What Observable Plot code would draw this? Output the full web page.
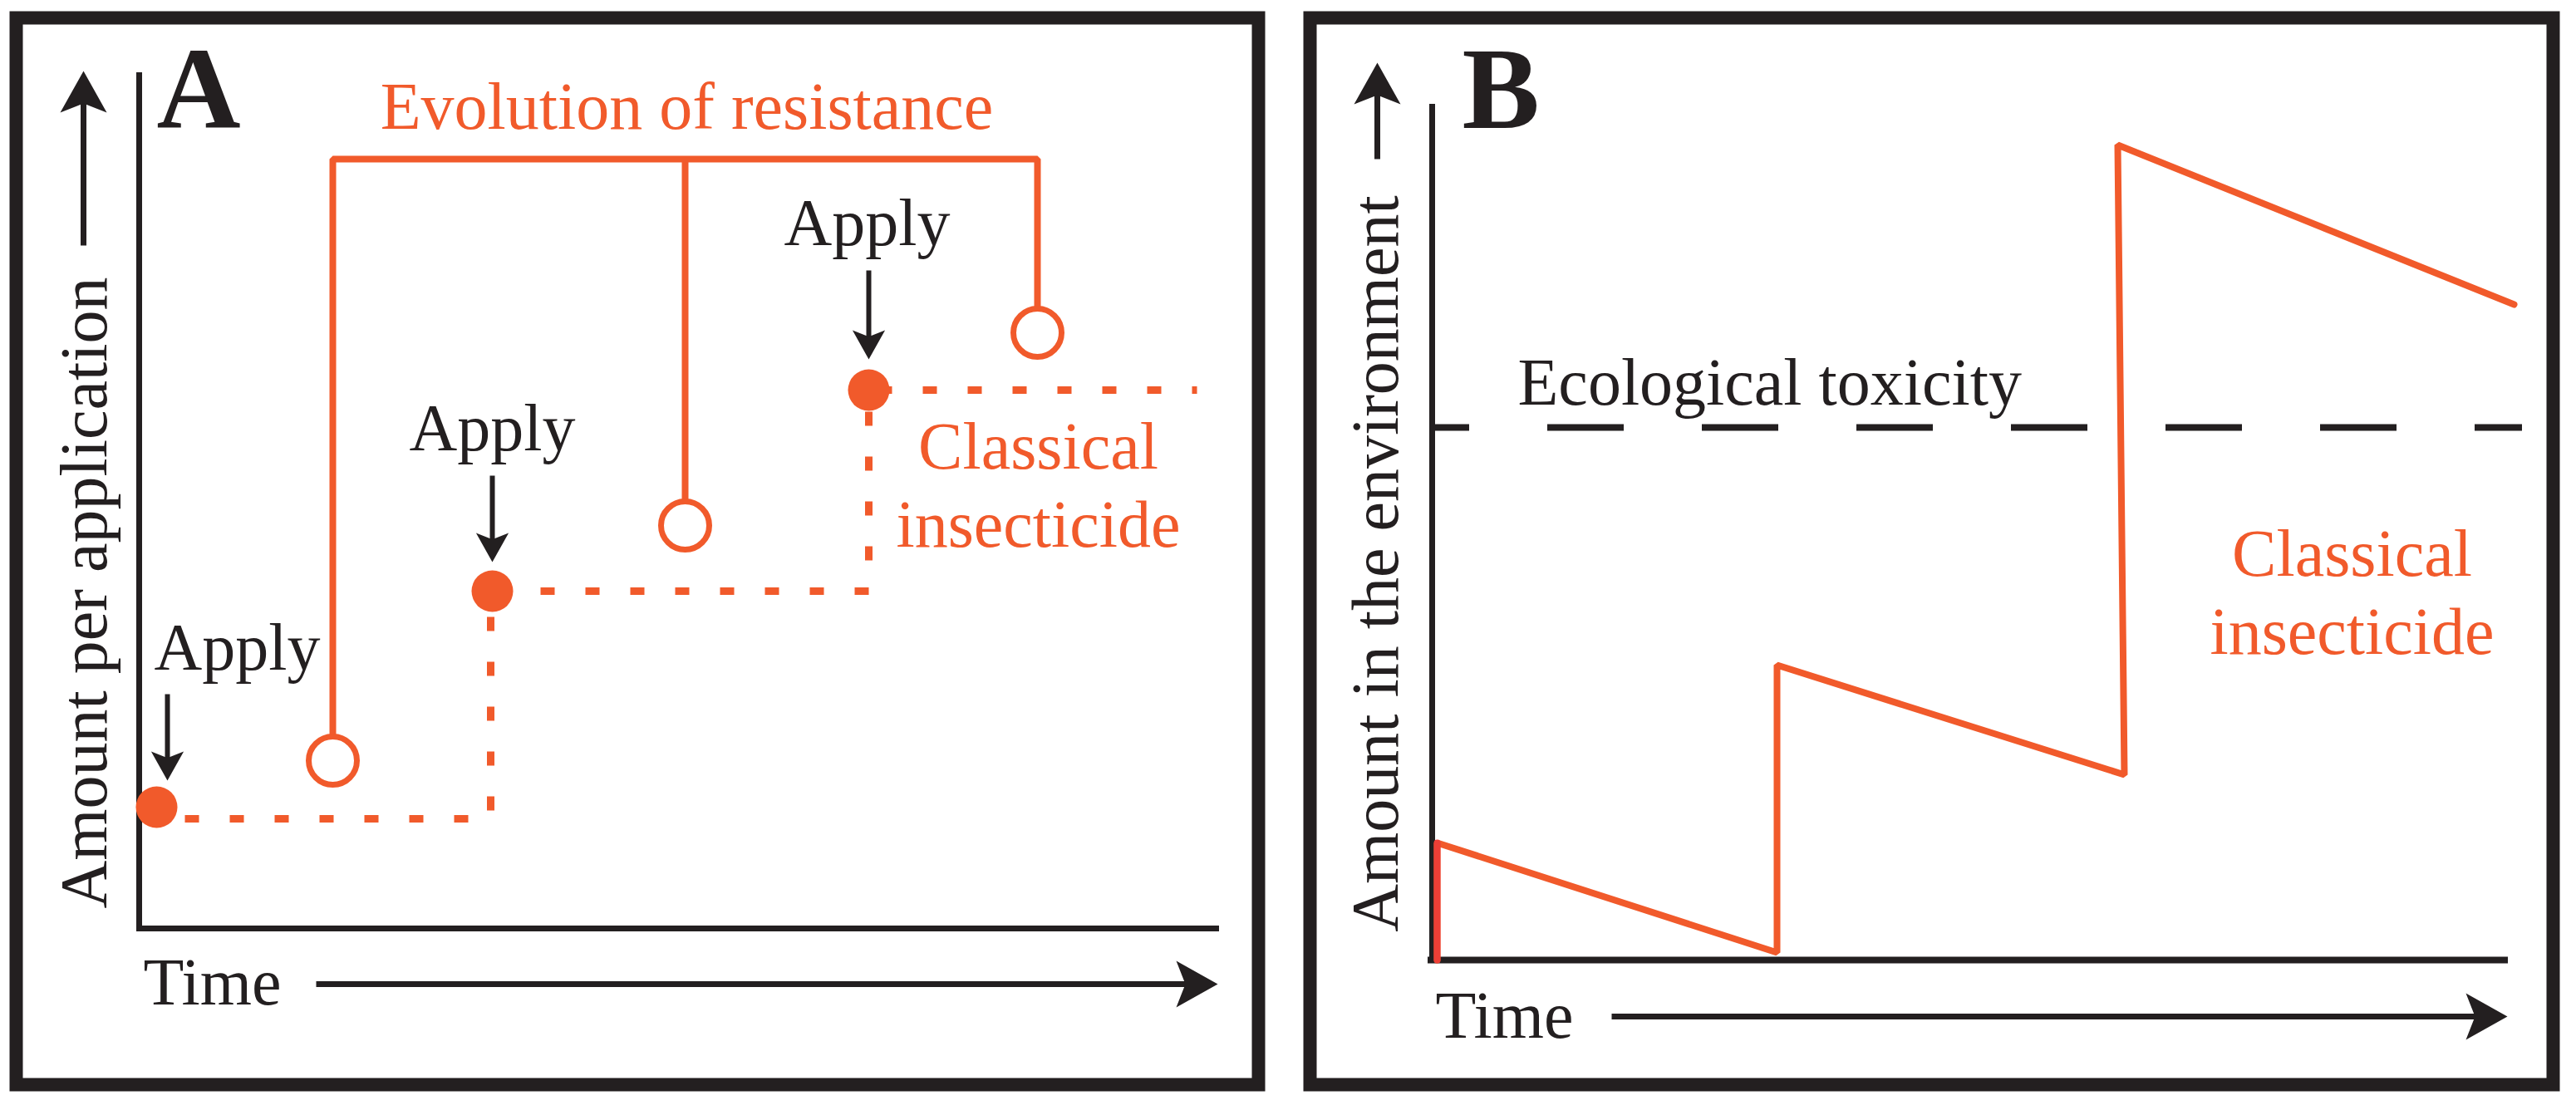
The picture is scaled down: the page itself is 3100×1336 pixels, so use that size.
<!DOCTYPE html>
<html>
<head>
<meta charset="utf-8">
<script src="https://cdn.jsdelivr.net/npm/d3@7"></script>
<script src="https://cdn.jsdelivr.net/npm/@observablehq/plot@0.6"></script>
<style>
  html, body { margin: 0; padding: 0; background: #fff; }
  #fig { display: flex; width: 3100px; height: 1336px; }
  #fig svg { display: block; }
</style>
</head>
<body>
<div id="fig"></div>
<script>
// ---------- Panel A data (x: time, y: amount per application) ----------
const applyT        = [0.21, 4.25, 8.78];     // application times
const applyAmt      = [1.46, 4.06, 6.48];     // amount applied each time
const stepT         = [0.21, 4.23, 4.23, 8.78, 8.78, 12.73];
const stepAmt       = [1.32, 1.32, 4.06, 4.06, 6.48, 6.48];
const resistT       = [2.33, 6.57, 10.81];    // resistance evolves
const resistAmt     = [2.02, 4.85, 7.17];
const bracketAmt    = 9.26;
const applyLabelT   = [1.18, 4.25, 8.76];
const applyLabelAmt = [3.12, 5.76, 8.23];
const applyArrowT   = [0.34, 4.25, 8.78];
const applyArrowFrom= [2.82, 5.45, 7.92];
const applyArrowTo  = [1.78, 4.41, 6.85];

// ---------- Panel B data (x: time, y: amount in the environment) ----------
const envT   = [0.06, 0.06, 4.15, 4.15, 8.33, 8.25, 13.02];
const envAmt = [0.00, 1.41, 0.09, 3.55, 2.23, 9.81, 7.89];
const toxicityLevel = 6.41;

// ---------- Text ----------
const panelLetters = ["A", "B"];
const titleA   = "Evolution of resistance";
const applyWord = "Apply";
const seriesLines = ["Classical", "insecticide"];
const yLabels = ["Amount per application", "Amount in the environment"];
const xLabel = "Time";
const toxicityLabel = "Ecological toxicity";

// ---------- Styles ----------
const ORANGE = "#f15a2b", RED = "#ee3f36", INK = "#231f20";
const FONT = "'Liberation Serif', 'Times New Roman', Times, serif";
const FS = 80;

// filled, notched arrow head symbol (tip at the point)
function head(dir) {
  const rot = {up: 0, down: Math.PI, right: Math.PI / 2, left: -Math.PI / 2}[dir];
  return {
    draw(ctx, size) {
      const L = Math.sqrt(size / Math.PI), w = L * 0.56, n = L * 0.78;
      const c = Math.cos(rot), s = Math.sin(rot);
      [[0, 0], [w, L], [0, n], [-w, L]].forEach(([x, y], i) => {
        const X = x * c - y * s, Y = x * s + y * c;
        i ? ctx.lineTo(X, Y) : ctx.moveTo(X, Y);
      });
      ctx.closePath();
    }
  };
}

// arrow = shaft (link) + filled head (dot). 100 px per data unit on both axes.
function arrow(x1, y1, x2, y2, len, width) {
  const dx = x2 - x1, dy = y2 - y1, d = Math.hypot(dx, dy);
  const k = (len * 0.72 / 100) / d;
  const dir = Math.abs(dx) > Math.abs(dy) ? (dx > 0 ? "right" : "left") : (dy > 0 ? "up" : "down");
  return [
    Plot.link([{x1, y1, x2: x2 - dx * k, y2: y2 - dy * k}], {x1: "x1", y1: "y1", x2: "x2", y2: "y2", stroke: INK, strokeWidth: width}),
    Plot.dot([{x: x2, y: y2}], {x: "x", y: "y", r: len, symbol: head(dir), fill: INK, stroke: "none"})
  ];
}

const txt = (data, o) => Plot.text(data, {x: "x", y: "y", text: "t", fontFamily: FONT, fontSize: FS, fill: INK, lineAnchor: "bottom", ...o});

// ---------- Panel A ----------
const stepData = stepT.map((t, i) => ({t, a: stepAmt[i]}));
const bracket = [
  {t: resistT[0], a: resistAmt[0]}, {t: resistT[0], a: bracketAmt},
  {t: resistT[2], a: bracketAmt}, {t: resistT[2], a: resistAmt[2]}
];
const applyDots = applyT.map((t, i) => ({t, a: applyAmt[i]}));
const resistDots = resistT.map((t, i) => ({t, a: resistAmt[i]}));

const plotA = Plot.plot({
  width: 1550, height: 1336,
  marginLeft: 167, marginRight: 83, marginTop: 87, marginBottom: 219,
  x: {domain: [0, 13], axis: null},
  y: {domain: [0, 10.3], axis: null},
  style: {background: "#fff", overflow: "visible"},
  marks: [
    Plot.frame({stroke: INK, strokeWidth: 16, insetLeft: -148, insetTop: -66, insetRight: -47, insetBottom: -188}),
    // axes
    Plot.ruleX([{x: 0, y1: 0, y2: 10.3}], {x: "x", y1: "y1", y2: "y2", stroke: INK, strokeWidth: 7}),
    Plot.ruleY([{y: 0, x1: -0.03, x2: 13}], {y: "y", x1: "x1", x2: "x2", stroke: INK, strokeWidth: 7}),
    ...arrow(-0.67, 8.22, -0.67, 10.32, 50, 7),
    ...arrow(2.13, -0.67, 12.98, -0.67, 50, 7),
    txt([{x: -0.40, y: 4.04, t: yLabels[0]}], {rotate: -90, textAnchor: "middle"}),
    txt([{x: 0.05, y: -0.91, t: xLabel}], {textAnchor: "start"}),
    txt([{x: 0.21, y: 9.64, t: panelLetters[0]}], {textAnchor: "start", fontSize: 140, fontWeight: "bold"}),
    // dashed staircase of the classical insecticide
    Plot.line(stepData, {x: "t", y: "a", stroke: ORANGE, strokeWidth: 9, strokeDasharray: "17,37", strokeDashoffset: 20, strokeLinecap: "butt"}),
    // evolution of resistance bracket
    Plot.line(bracket, {x: "t", y: "a", stroke: ORANGE, strokeWidth: 8, strokeLinejoin: "miter"}),
    Plot.ruleX([{x: resistT[1], y1: resistAmt[1], y2: bracketAmt}], {x: "x", y1: "y1", y2: "y2", stroke: ORANGE, strokeWidth: 8}),
    Plot.dot(resistDots, {x: "t", y: "a", r: 29, fill: "#fff", stroke: ORANGE, strokeWidth: 7}),
    Plot.dot(applyDots, {x: "t", y: "a", r: 25, fill: ORANGE, stroke: "none"}),
    txt([{x: 6.59, y: 9.63, t: titleA}], {fill: ORANGE, textAnchor: "middle"}),
    txt([{x: 10.82, y: 5.54, t: seriesLines[0]}, {x: 10.82, y: 4.60, t: seriesLines[1]}], {fill: ORANGE, textAnchor: "middle"}),
    // Apply labels + arrows
    txt(applyLabelT.map((x, i) => ({x, y: applyLabelAmt[i], t: applyWord})), {textAnchor: "middle"}),
    ...applyArrowT.flatMap((x, i) => arrow(x, applyArrowFrom[i], x, applyArrowTo[i], 35, 6))
  ]
});

// ---------- Panel B ----------
const envData = envT.map((t, i) => ({t, a: envAmt[i]}));

const plotB = Plot.plot({
  width: 1550, height: 1336,
  marginLeft: 173, marginRight: 77, marginTop: 125, marginBottom: 181,
  x: {domain: [0, 13], axis: null},
  y: {domain: [0, 10.3], axis: null},
  style: {background: "#fff", overflow: "visible"},
  marks: [
    Plot.frame({stroke: INK, strokeWidth: 16, insetLeft: -147, insetTop: -104, insetRight: -49, insetBottom: -150}),
    // ecological toxicity threshold
    Plot.ruleY([{y: toxicityLevel, x1: 0, x2: 13.12}], {y: "y", x1: "x1", x2: "x2", stroke: INK, strokeWidth: 8, strokeDasharray: "92,94", strokeDashoffset: 47}),
    txt([{x: 1.03, y: 6.69, t: toxicityLabel}], {textAnchor: "start"}),
    // axes
    Plot.ruleX([{x: 0, y1: 0, y2: 10.3}], {x: "x", y1: "y1", y2: "y2", stroke: INK, strokeWidth: 7}),
    Plot.ruleY([{y: 0, x1: -0.05, x2: 12.95}], {y: "y", x1: "x1", x2: "x2", stroke: INK, strokeWidth: 8}),
    ...arrow(-0.66, 9.64, -0.66, 10.80, 50, 7),
    ...arrow(2.16, -0.68, 12.94, -0.68, 50, 7),
    txt([{x: -0.42, y: 4.77, t: yLabels[1]}], {rotate: -90, textAnchor: "middle"}),
    txt([{x: 0.04, y: -0.93, t: xLabel}], {textAnchor: "start"}),
    txt([{x: 0.36, y: 10.02, t: panelLetters[1]}], {textAnchor: "start", fontSize: 140, fontWeight: "bold"}),
    // sawtooth of the classical insecticide
    Plot.line(envData, {x: "t", y: "a", stroke: ORANGE, strokeWidth: 8, strokeLinejoin: "miter"}),
    Plot.line(envData.slice(0, 2), {x: "t", y: "a", stroke: RED, strokeWidth: 8}),
    txt([{x: 11.07, y: 4.63, t: seriesLines[0]}, {x: 11.07, y: 3.69, t: seriesLines[1]}], {fill: ORANGE, textAnchor: "middle"})
  ]
});

document.getElementById("fig").append(plotA, plotB);
</script>
</body>
</html>
